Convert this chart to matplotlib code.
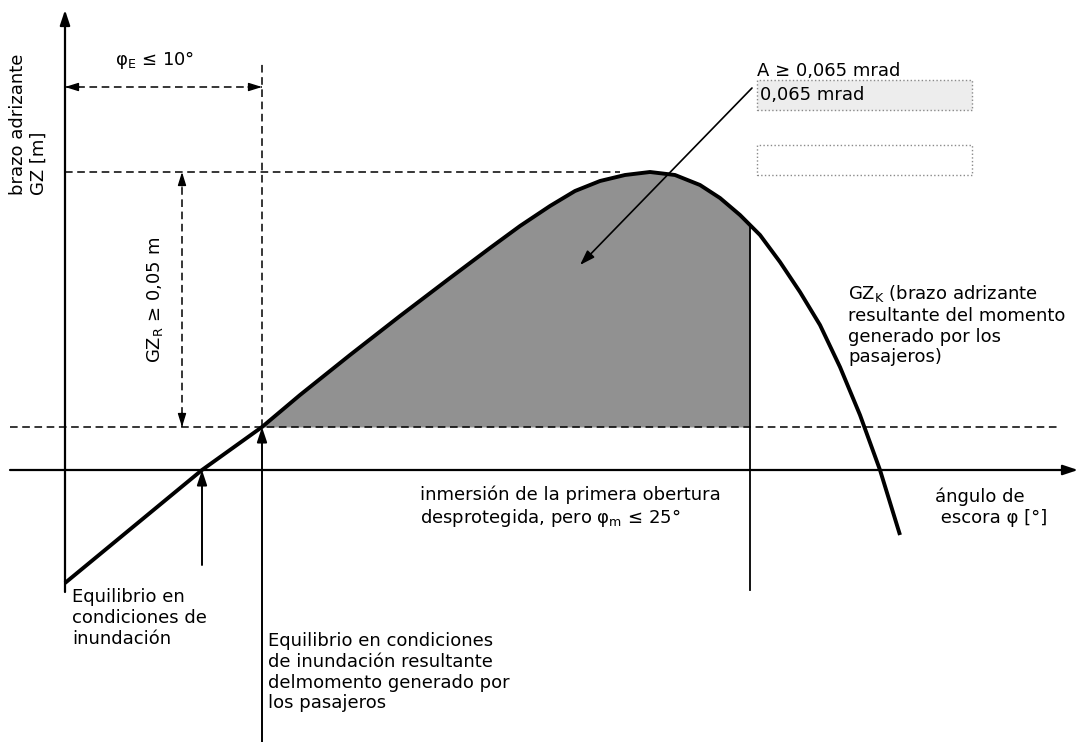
import matplotlib
matplotlib.use("Agg")
import matplotlib.pyplot as plt
from matplotlib.patches import Rectangle
import numpy as np

plt.rcParams['font.family'] = ['DejaVu Sans']
plt.rcParams['mathtext.fontset'] = 'dejavusans'

# Schematic data (units: heel-angle axis phi, righting lever GZ; arbitrary drawing units)
phi = [0, 137, 197, 235, 285, 335, 385, 425, 455, 485, 510, 535, 560, 585,
       610, 635, 655, 675, 685, 695, 715, 735, 755, 775, 795, 815, 835]
gz = [-113, 0, 43, 75, 115, 154, 192, 222, 244, 264, 279, 289, 295, 298,
      295, 285, 272, 255, 245, 235, 208, 178, 145, 103, 55, 0, -65]

phi_eq = 137        # equilibrium in flooded condition
phi_E = 197         # equilibrium incl. passenger moment
phi_m = 685         # immersion of first unprotected opening
gz_R = 43           # GZ_R level
gz_max = 298        # max GZ level

FS = 13
fig = plt.figure(figsize=(10.83, 7.42), dpi=100)
ax = fig.add_axes([0, 0, 1, 1])
ax.set_xlim(-65, 1018)
ax.set_ylim(-272, 470)
ax.axis('off')

phi_a = np.array(phi, float)
gz_a = np.array(gz, float)

# shaded area A
m = (phi_a >= phi_E) & (phi_a <= phi_m)
ax.fill_between(phi_a[m], gz_R, gz_a[m], color='#919191', lw=0, zorder=1)

# axes with arrows
ax.annotate('', xy=(0, 460), xytext=(0, -122),
            arrowprops=dict(arrowstyle='-|>,head_length=0.9,head_width=0.3',
                            lw=1.6, color='black', shrinkA=0, shrinkB=0), zorder=3)
ax.annotate('', xy=(1013, 0), xytext=(-55, 0),
            arrowprops=dict(arrowstyle='-|>,head_length=0.9,head_width=0.3',
                            lw=1.6, color='black', shrinkA=0, shrinkB=0), zorder=3)

# GZ curve
ax.plot(phi_a, gz_a, color='black', lw=2.8, solid_capstyle='butt',
        solid_joinstyle='round', zorder=4)

dash = (0, (5, 3))
# dashed reference lines
ax.plot([-55, 993], [gz_R, gz_R], color='black', lw=1.1, ls=dash, zorder=2)
ax.plot([phi_E, phi_E], [gz_R, 408], color='black', lw=1.1, ls=dash, zorder=2)
ax.plot([0, 555], [gz_max, gz_max], color='black', lw=1.1, ls=dash, zorder=2)

# dashed dimension arrows
yE = 383
ax.plot([0, phi_E], [yE, yE], color='black', lw=1.1, ls=dash, zorder=2)
hp = dict(arrowstyle='-|>,head_length=0.8,head_width=0.25', lw=1.0, color='black',
          shrinkA=0, shrinkB=0)
ax.annotate('', xy=(0, yE), xytext=(14, yE), arrowprops=hp)
ax.annotate('', xy=(phi_E, yE), xytext=(phi_E - 14, yE), arrowprops=hp)
xR = 117
ax.plot([xR, xR], [gz_R, gz_max], color='black', lw=1.1, ls=dash, zorder=2)
ax.annotate('', xy=(xR, gz_max), xytext=(xR, gz_max - 14), arrowprops=hp)
ax.annotate('', xy=(xR, gz_R), xytext=(xR, gz_R + 14), arrowprops=hp)

# solid pointer arrows
sp = dict(arrowstyle='-|>,head_length=0.9,head_width=0.3', lw=1.4, color='black',
          shrinkA=0, shrinkB=0)
ax.annotate('', xy=(phi_eq, 0), xytext=(phi_eq, -95), arrowprops=sp, zorder=5)
ax.annotate('', xy=(phi_E, gz_R), xytext=(phi_E, -272), arrowprops=sp, zorder=5)
ax.annotate('', xy=(515, 205), xytext=(687, 382),
            arrowprops=dict(arrowstyle='-|>,head_length=0.9,head_width=0.3', lw=1.2,
                            color='black', shrinkA=0, shrinkB=0), zorder=5)

# vertical line at phi_m
ax.plot([phi_m, phi_m], [-120, 245], color='black', lw=1.3, zorder=3)

# boxes
ax.add_patch(Rectangle((692, 360), 215, 30, facecolor='#ededed', edgecolor='#8a8a8a',
                       lw=1.0, ls=':', zorder=2))
ax.add_patch(Rectangle((692, 295), 215, 30, facecolor='white', edgecolor='#8a8a8a',
                       lw=1.0, ls=':', zorder=2))

# texts
ax.text(90, 410, 'φ$_\\mathrm{E}$ ≤ 10°', fontsize=FS, ha='center', va='center')
ax.text(-37, 275, 'brazo adrizante\nGZ [m]', fontsize=FS, rotation=90,
        ha='center', va='bottom', multialignment='left')
ax.text(90, 170, 'GZ$_\\mathrm{R}$ ≥ 0,05 m', fontsize=FS, rotation=90,
        ha='center', va='center')
ax.text(692, 408, 'A ≥ 0,065 mrad', fontsize=FS, ha='left', va='top')
ax.text(695, 375, '0,065 mrad', fontsize=FS, ha='left', va='center', zorder=3)
ax.text(783, 187, 'GZ$_\\mathrm{K}$ (brazo adrizante\nresultante del momento\n'
        'generado por los\npasajeros)', fontsize=FS, ha='left', va='top')
ax.text(870, -18, 'ángulo de\n escora φ [°]', fontsize=FS, ha='left', va='top')
ax.text(355, -15, 'inmersión de la primera obertura\ndesprotegida, pero φ$_\\mathrm{m}$ ≤ 25°',
        fontsize=FS, ha='left', va='top')
ax.text(7, -118, 'Equilibrio en\ncondiciones de\ninundación', fontsize=FS,
        ha='left', va='top')
ax.text(203, -162, 'Equilibrio en condiciones\nde inundación resultante\n'
        'delmomento generado por\nlos pasajeros', fontsize=FS, ha='left', va='top')

fig.savefig('out.png', dpi=100)
